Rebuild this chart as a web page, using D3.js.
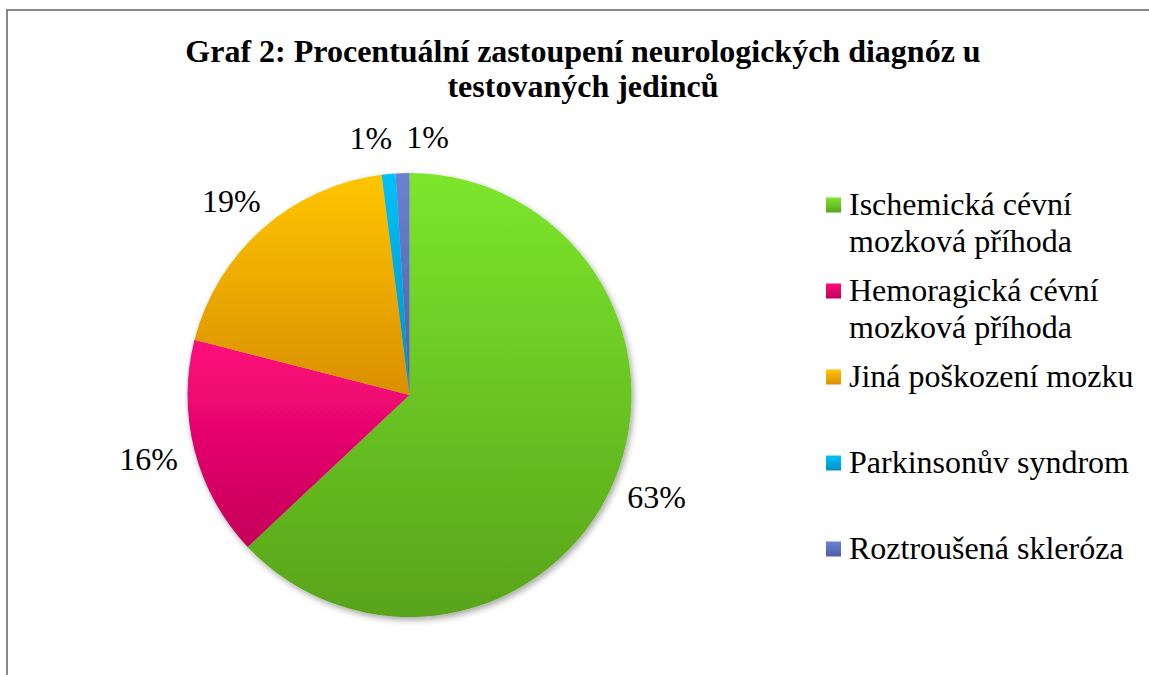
<!DOCTYPE html>
<html>
<head>
<meta charset="utf-8">
<script src="https://cdn.jsdelivr.net/npm/d3@7"></script>
<style>
  html, body { margin: 0; padding: 0; background: #fff; }
  text { font-family: "Liberation Serif", "Times New Roman", serif; fill: #000; }
</style>
</head>
<body>
<script>
// data
const categories = [
    'Ischemická cévní mozková příhoda',
    'Hemoragická cévní mozková příhoda',
    'Jiná poškození mozku',
    'Parkinsonův syndrom',
    'Roztroušená skleróza'
];
const shares = [63, 16, 19, 1, 1];
const titleLines = [
    'Graf 2: Procentuální zastoupení neurologických diagnóz u',
    'testovaných jedinců'
];

// palette: top / bottom stop of each slice gradient
const topColors = ['#7ce62b', '#ff0a7c', '#ffc500', '#00c2fa', '#6c82d0'];
const bottomColors = ['#58a41a', '#c5005a', '#da8f00', '#0090c2', '#4c60a5'];

const W = 1149, H = 675;
const cx = 409.5, cy = 395, radius = 222;
const fontSize = 32;

const svg = d3.select('body').append('svg')
    .attr('width', W)
    .attr('height', H);

// chart frame (right and bottom edges run off the picture)
svg.append('rect')
    .attr('x', 7).attr('y', 10)
    .attr('width', W + 20).attr('height', H + 20)
    .attr('fill', '#fff')
    .attr('stroke', '#878787')
    .attr('stroke-width', 2);

const defs = svg.append('defs');
categories.forEach((c, i) => {
    const g = defs.append('linearGradient')
        .attr('id', 'grad' + i)
        .attr('x1', 0).attr('y1', 0).attr('x2', 0).attr('y2', 1);
    g.append('stop').attr('offset', '0%').attr('stop-color', topColors[i]);
    g.append('stop').attr('offset', '100%').attr('stop-color', bottomColors[i]);
});
const shadow = defs.append('filter')
    .attr('id', 'shadow')
    .attr('x', '-10%').attr('y', '-10%').attr('width', '120%').attr('height', '120%');
shadow.append('feDropShadow')
    .attr('dx', 2).attr('dy', 3)
    .attr('stdDeviation', 3)
    .attr('flood-color', '#000')
    .attr('flood-opacity', 0.35);

// title
svg.append('g').selectAll('text')
    .data(titleLines)
    .enter()
    .append('text')
    .attr('x', 583)
    .attr('y', (d, i) => 62 + i * 35)
    .attr('text-anchor', 'middle')
    .style('font-size', fontSize + 'px')
    .style('font-weight', 'bold')
    .text(d => d);

// pie
const pie = d3.pie().sort(null).value(d => d);
const arcs = pie(shares);
const arc = d3.arc().innerRadius(0).outerRadius(radius);

const pieG = svg.append('g')
    .attr('transform', `translate(${cx},${cy})`)
    .attr('filter', 'url(#shadow)');

pieG.selectAll('.slice')
    .data(arcs)
    .enter()
    .append('path')
    .attr('class', 'slice')
    .attr('d', arc)
    .attr('fill', (d, i) => `url(#grad${i})`);

// percentage labels, outside end
const total = d3.sum(shares);
const fmt = d3.format('.0%');
const labelG = svg.append('g');
const gap = 18;
const boxes = arcs.map((d, i) => {
    const t = labelG.append('text')
        .attr('text-anchor', 'middle')
        .style('font-size', fontSize + 'px')
        .text(fmt(d.value / total));
    const bb = t.node().getBBox();
    const mid = (d.startAngle + d.endAngle) / 2;
    const ux = Math.sin(mid), uy = -Math.cos(mid);
    const x = cx + ux * (radius + gap) + ux * bb.width / 2;
    const y = cy + uy * (radius + gap) + uy * bb.height / 2;
    return { t, bb, x, y, w: bb.width, h: bb.height };
});
// push overlapping labels apart sideways (the right-hand one keeps its place more)
for (let k = 0; k < 10; k++) {
    for (let a = 0; a < boxes.length; a++) {
        for (let b = a + 1; b < boxes.length; b++) {
            const A = boxes[a], B = boxes[b];
            const need = (A.w + B.w) / 2 + 14;
            const dx = B.x - A.x;
            if (Math.abs(dx) < need && Math.abs(B.y - A.y) < (A.h + B.h) / 2) {
                const push = need - Math.abs(dx);
                const s = dx >= 0 ? 1 : -1;
                A.x -= s * push * 0.35;
                B.x += s * push * 0.65;
            }
        }
    }
}
boxes.forEach(b => {
    b.t.attr('x', b.x).attr('y', b.y - (b.bb.y + b.bb.height / 2));
});

// legend
const legendY = d3.scalePoint().domain(categories).range([205, 549]);
const legend = svg.append('g');
const maxWidth = 295;
categories.forEach((c, i) => {
    const y0 = legendY(c);
    legend.append('rect')
        .attr('x', 826).attr('y', y0 - 7.5)
        .attr('width', 15).attr('height', 15)
        .attr('fill', `url(#grad${i})`);
    const t = legend.append('text')
        .attr('x', 849)
        .attr('y', y0 + 10)
        .style('font-size', fontSize + 'px');
    // wrap to width
    const words = c.split(' ');
    let line = [];
    let ts = t.append('tspan').attr('x', 849).attr('dy', 0);
    words.forEach(w => {
        line.push(w);
        ts.text(line.join(' '));
        if (ts.node().getComputedTextLength() > maxWidth && line.length > 1) {
            line.pop();
            ts.text(line.join(' '));
            line = [w];
            ts = t.append('tspan').attr('x', 849).attr('dy', 37).text(w);
        }
    });
});
</script>
</body>
</html>
